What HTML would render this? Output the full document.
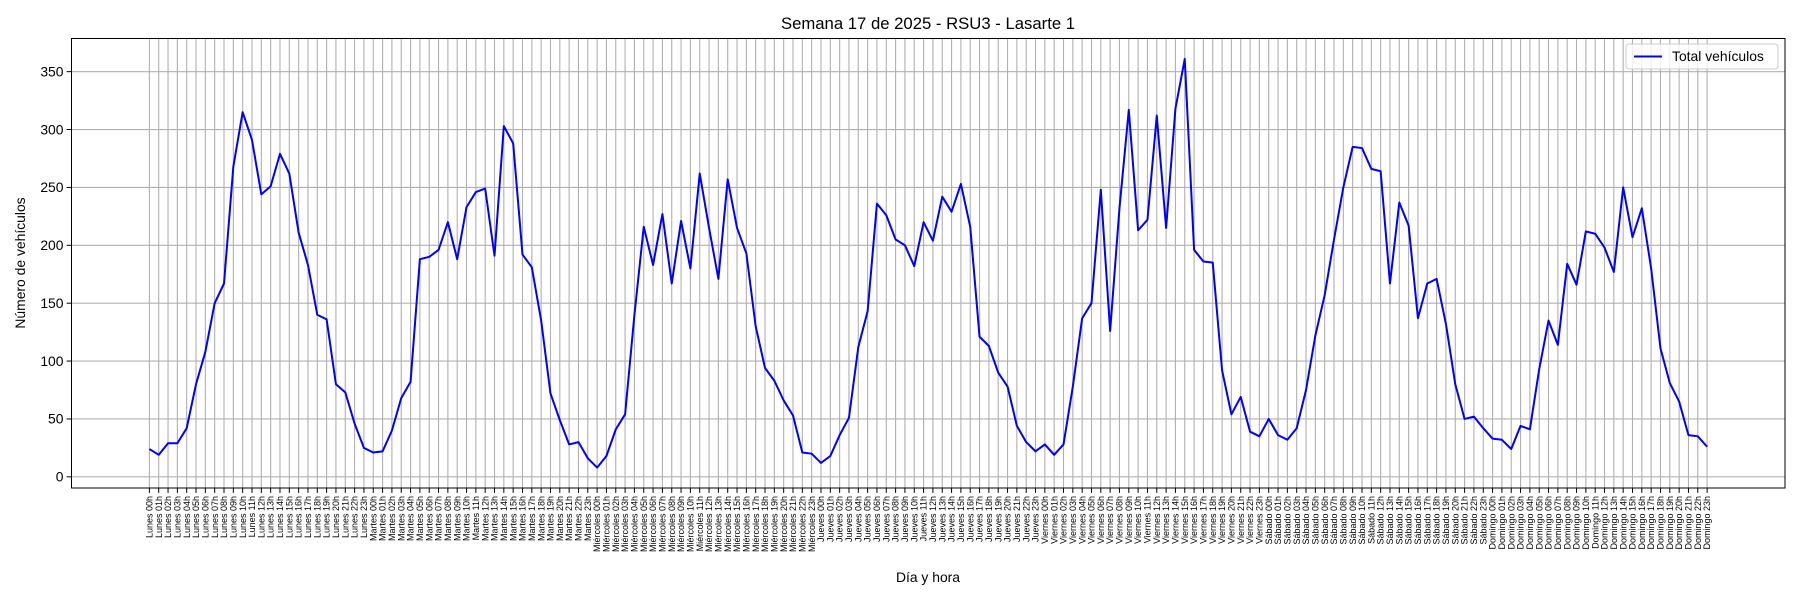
<!DOCTYPE html>
<html><head><meta charset="utf-8">
<style>
html,body{margin:0;padding:0;background:#fff;}
svg{display:block;font-family:"Liberation Sans","DejaVu Sans",sans-serif;}
</style></head>
<body>
<svg id="chart" width="1800" height="600" viewBox="0 0 1800 600" xmlns="http://www.w3.org/2000/svg">
  <rect x="0" y="0" width="1800" height="600" fill="#fff"/>
  <text x="928" y="29" font-size="16.7" text-anchor="middle" fill="#000">Semana 17 de 2025 - RSU3 - Lasarte 1</text>
  <g id="grid"></g>
  <g id="yticks"></g>
  <g id="xticks"></g>
  <g id="series"></g>
  <rect x="71.5" y="38.5" width="1713.5" height="449.5" fill="none" stroke="#000" stroke-width="1"/>
  <text x="928" y="582" font-size="13.9" text-anchor="middle">Día y hora</text>
  <text transform="translate(25,263) rotate(-90)" font-size="13.9" text-anchor="middle">Número de vehículos</text>
  <g>
    <rect x="1626" y="44" width="152" height="25" fill="#fff" fill-opacity="0.8" stroke="#ccc" rx="3"/>
    <line x1="1634" y1="56.5" x2="1662" y2="56.5" stroke="#0000ff" stroke-width="2"/>
    <text x="1672" y="61" font-size="13.9">Total vehículos</text>
  </g>
</svg>
<script>
const days = ["Lunes","Martes","Miércoles","Jueves","Viernes","Sábado","Domingo"];
const lunes = [24,19,29,29,42,80,108,150,167,268,315,291,244,251,279,262,211,183,140,136,80,73,46,25];
const martes = [21,22,40,68,82,188,190,196,220,188,233,246,249,191,303,288,192,181,135,72,49,28,30,16];
const miercoles = [8,18,41,54,140,216,183,227,167,221,180,262,215,171,257,215,193,130,94,83,66,53,21,20];
const jueves = [12,18,36,51,112,143,236,226,205,200,182,220,204,242,229,253,216,121,113,90,78,44,30,22];
const viernes = [28,19,28,78,137,150,248,126,232,317,213,222,312,215,318,361,196,186,185,92,54,69,39,35];
const sabado = [50,36,32,42,75,122,157,205,250,285,284,266,264,167,237,217,137,167,171,132,80,50,52,42];
const domingo = [33,32,24,44,41,93,135,114,184,166,212,210,198,177,250,207,232,180,111,81,65,36,35,26];
const yTickValues = [0,50,100,150,200,250,300,350];

const values = [].concat(lunes,martes,miercoles,jueves,viernes,sabado,domingo);
const categories = [];
days.forEach(d=>{for(let h=0;h<24;h++){categories.push(d+" "+String(h).padStart(2,"0")+"h");}});

const NS="http://www.w3.org/2000/svg";
const L=71.5,R=1785,T=38.5,B=488;
const n=values.length;
const pad=(n-1)*0.05;
const xmin=-pad,xmax=(n-1)+pad;
const vmin=Math.min(...values),vmax=Math.max(...values);
const ypad=(vmax-vmin)*0.05;
const ymin=vmin-ypad,ymax=vmax+ypad;
function xs(i){return L+(i-xmin)/(xmax-xmin)*(R-L);}
function ys(v){return B-(v-ymin)/(ymax-ymin)*(B-T);}
function mk(tag,attrs,parent){const e=document.createElementNS(NS,tag);for(const k in attrs)e.setAttribute(k,attrs[k]);parent.appendChild(e);return e;}

const grid=document.getElementById("grid");
const yt=document.getElementById("yticks");
const xt=document.getElementById("xticks");
yTickValues.forEach(v=>{
  const y=ys(v);
  const g=mk("line",{x1:L,x2:R,y1:y,y2:y,stroke:"#b0b0b0","stroke-width":1.1},grid);
  
  
  const tk=mk("line",{x1:L-4.9,x2:L,y1:y,y2:y,stroke:"#000","stroke-width":1},yt);
  
  
  const t=mk("text",{x:L-8,y:y+4.8,"font-size":13.9,"text-anchor":"end"},yt);
  
  
  t.textContent=v;
});
categories.forEach((c,i)=>{
  const x=xs(i);
  const g=mk("line",{x1:x,x2:x,y1:T,y2:B,stroke:"#b0b0b0","stroke-width":1.1},grid);
  
  
  const tk=mk("line",{x1:x,x2:x,y1:B,y2:B+4.9,stroke:"#000","stroke-width":1},xt);
  
  
  const t=mk("text",{transform:"translate("+(x+3.1)+","+(B+8)+") rotate(-90)","font-size":9,"text-anchor":"end"},xt);
  
  
  t.textContent=c;
});
const pts=values.map((v,i)=>xs(i).toFixed(2)+","+ys(v).toFixed(2)).join(" ");
const line=mk("polyline",{points:pts,fill:"none",stroke:"#0000ff","stroke-width":2,"stroke-linejoin":"round"},document.getElementById("series"));


</script>
</body></html>
